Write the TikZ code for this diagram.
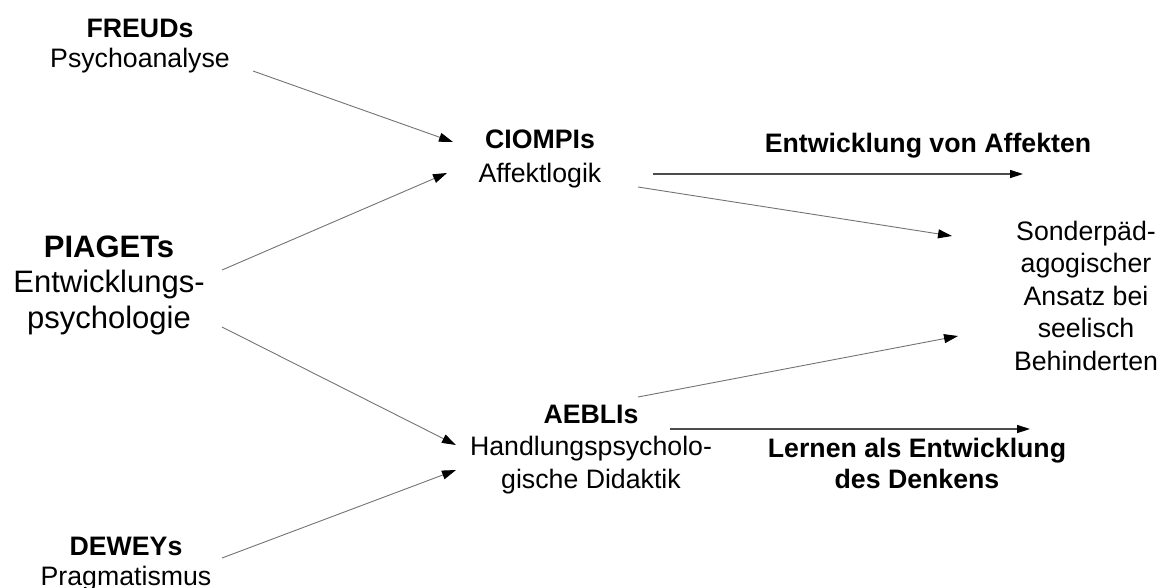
\documentclass[tikz,border=0pt]{standalone}
\usepackage{fontspec}
\setmainfont{Liberation Sans}
\usetikzlibrary{arrows.meta}
\tikzset{
  lbl/.style={align=center, inner sep=0pt, anchor=base, font=\fontsize{26.7}{32}\selectfont},
  bigl/.style={lbl, font=\fontsize{31}{35.5}\selectfont},
  thinarrow/.style={draw=black!55, line width=0.9pt, -{Triangle[length=14pt,width=9pt,black]}},
  thickarrow/.style={draw=black!70, line width=1.4pt, -{Triangle[length=13pt,width=8pt,black]}},
}
\begin{document}
\begin{tikzpicture}[x=1pt,y=-1pt]
\useasboundingbox (0,0) rectangle (1167,587);
% base anchor = baseline of the last line
\node[lbl, font=\fontsize{26.7}{30}\selectfont] (freud) at (140,67) {\textbf{FREUDs}\\Psychoanalyse};
\node[bigl] (piaget) at (109,328) {\textbf{PIAGETs}\\Entwicklungs-\\psychologie};
\node[lbl, font=\fontsize{26.7}{30}\selectfont] (dewey) at (126,585) {\textbf{DEWEYs}\\Pragmatismus};
\node[lbl, font=\fontsize{26.7}{34}\selectfont] (ciompi) at (540,182) {\textbf{CIOMPIs}\\Affektlogik};
\node[lbl, font=\fontsize{26.7}{32.5}\selectfont] (aebli) at (591,488) {\textbf{AEBLIs}\\Handlungspsycholo-\\gische Didaktik};
\node[lbl] (affekt) at (928,152) {\textbf{Entwicklung von Affekten}};
\node[lbl, font=\fontsize{26.7}{31}\selectfont] (lernen) at (917,488) {\textbf{Lernen als Entwicklung}\\\textbf{des Denkens}};
\node[lbl, font=\fontsize{26.7}{32.5}\selectfont] (sonder) at (1086,370) {Sonderpäd-\\agogischer\\Ansatz bei\\seelisch\\Behinderten};

\draw[thinarrow] ([shift={(113,4)}]freud.base) -- ([shift={(-87,-40)}]ciompi.base);
\draw[thinarrow] ([shift={(113,-58)}]piaget.base) -- ([shift={(-93,-9)}]ciompi.base);
\draw[thinarrow] ([shift={(113,-1)}]piaget.base) -- ([shift={(-135,-43)}]aebli.base);
\draw[thinarrow] ([shift={(96,-27)}]dewey.base) -- ([shift={(-135,-18)}]aebli.base);
\draw[thickarrow] ([shift={(113,-8)}]ciompi.base) -- ([shift={(95,22)}]affekt.base);
\draw[thinarrow] ([shift={(98,5)}]ciompi.base) -- ([shift={(-134,-134)}]sonder.base);
\draw[thinarrow] ([shift={(47,-91)}]aebli.base) -- ([shift={(-128,-34)}]sonder.base);
\draw[thickarrow] ([shift={(79,-59)}]aebli.base) -- ([shift={(113,-59)}]lernen.base);
\end{tikzpicture}
\end{document}
